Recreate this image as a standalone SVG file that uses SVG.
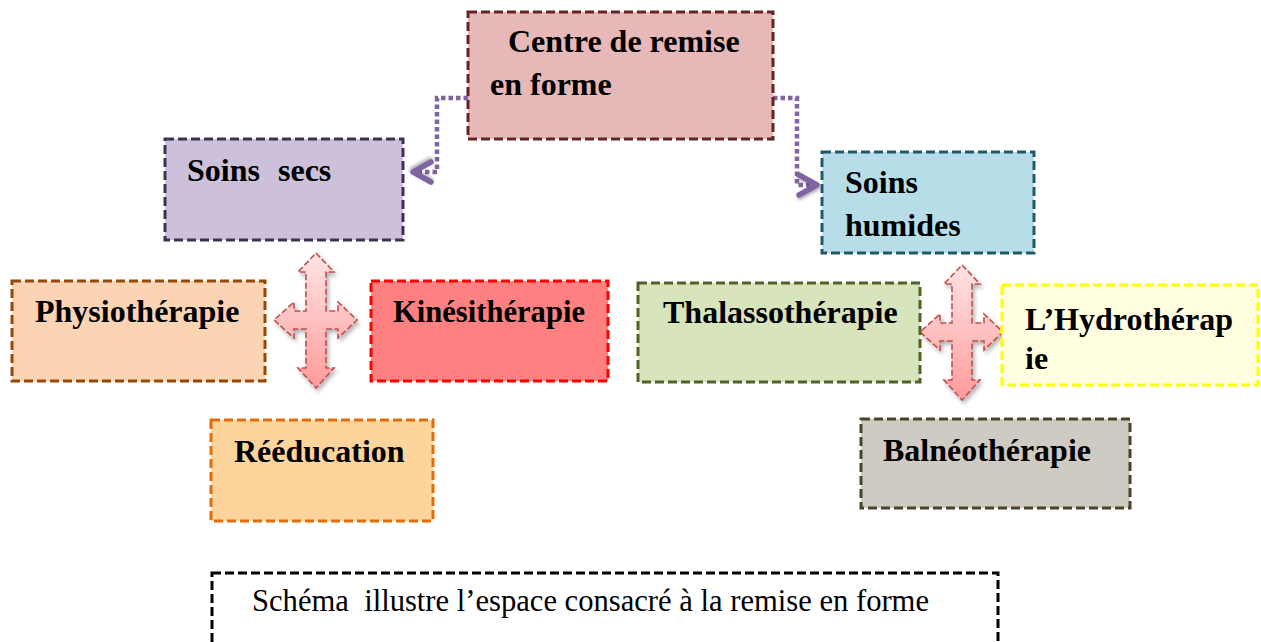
<svg xmlns="http://www.w3.org/2000/svg" width="1261" height="642" viewBox="0 0 1261 642">
<style>
.box{stroke-width:3;stroke-dasharray:9 4;}
.t{font-family:"Liberation Serif","Times New Roman",serif;font-weight:bold;font-size:32px;fill:#000;}
.cap{font-family:"Liberation Serif","Times New Roman",serif;font-size:30.6px;fill:#000;}
.conn{fill:none;stroke:#8064a2;stroke-width:4.5;stroke-dasharray:4.5 3;}
.cross{fill:url(#pink);stroke:#c0504d;stroke-width:1.6;stroke-dasharray:6 2.5;filter:url(#sh);}
</style>
<defs>
<linearGradient id="pink" x1="0" y1="0" x2="0" y2="1">
<stop offset="0" stop-color="#ffe3e3"/>
<stop offset="0.5" stop-color="#ffc0c0"/>
<stop offset="1" stop-color="#ff9a9a"/>
</linearGradient>
<filter id="sh" x="-30%" y="-30%" width="160%" height="160%">
<feDropShadow dx="2" dy="3" stdDeviation="2" flood-color="#000" flood-opacity="0.3"/>
</filter>
<filter id="sh2" x="-50%" y="-50%" width="200%" height="200%">
<feDropShadow dx="1" dy="2" stdDeviation="1.5" flood-color="#000" flood-opacity="0.3"/>
</filter>
<marker id="chev" markerUnits="userSpaceOnUse" markerWidth="30" markerHeight="30" refX="2" refY="12" orient="auto" overflow="visible">
<path d="M-16,2 L2,12 L-16,22" fill="none" stroke="#8064a2" stroke-width="5.5" stroke-linejoin="round" stroke-linecap="round" filter="url(#sh2)"/>
</marker>
<path id="x4" d="M0,-67 L18,-48 L10,-48 L10,-9 L22,-9 L22,-18 L41,0 L22,18 L22,9 L10,9 L10,48 L18,48 L0,68 L-18,48 L-10,48 L-10,9 L-22,9 L-22,18 L-42,0 L-22,-18 L-22,-9 L-10,-9 L-10,-48 L-18,-48 Z"/>
</defs>
<rect width="1261" height="642" fill="#fff"/>

<g id="connectors">
<path class="conn" d="M468,98 H437 V172 H413" marker-end="url(#chev)"/>
<path class="conn" d="M773,98 H797 V185 H817" marker-end="url(#chev)"/>
<use href="#x4" class="cross" x="316" y="320"/>
<use href="#x4" class="cross" x="962" y="332"/>
</g>

<g id="centre">
<rect class="box" x="468" y="12" width="305" height="127" fill="#e6b8b7" stroke="#632523"/>
<text class="t" x="508" y="52">Centre de remise</text>
<text class="t" x="490" y="95">en forme</text>
</g>

<g id="soins-secs">
<rect class="box" x="165" y="139" width="238" height="101" fill="#ccc0da" stroke="#3f3151"/>
<text class="t" x="187" y="181">Soins<tspan x="278">secs</tspan></text>
</g>

<g id="soins-humides">
<rect class="box" x="822" y="152" width="212" height="101" fill="#b7dde8" stroke="#215968"/>
<text class="t" x="845" y="193">Soins</text>
<text class="t" x="845" y="236">humides</text>
</g>

<g id="physiotherapie">
<rect class="box" x="12" y="281" width="253" height="100" fill="#fbd4b4" stroke="#974806"/>
<text class="t" x="35" y="322">Physiothérapie</text>
</g>

<g id="kinesitherapie">
<rect class="box" x="371" y="281" width="237" height="100" fill="#ff8080" stroke="#ff0000"/>
<text class="t" x="393" y="322" textLength="192" lengthAdjust="spacingAndGlyphs">Kinésithérapie</text>
</g>

<g id="thalassotherapie">
<rect class="box" x="638" y="283" width="282" height="99" fill="#d7e4bc" stroke="#4f6228"/>
<text class="t" x="663" y="323">Thalassothérapie</text>
</g>

<g id="hydrotherapie">
<rect class="box" x="1002" y="285" width="256" height="100" fill="#ffffe0" stroke="#ffff00"/>
<text class="t" x="1025" y="330">L’Hydrothérap</text>
<text class="t" x="1025" y="369">ie</text>
</g>

<g id="reeducation">
<rect class="box" x="211" y="420" width="222" height="101" fill="#fdd49b" stroke="#e36c09"/>
<text class="t" x="234" y="462">Rééducation</text>
</g>

<g id="balneotherapie">
<rect class="box" x="861" y="419" width="269" height="89" fill="#cfcbc3" stroke="#494429"/>
<text class="t" x="883" y="461">Balnéothérapie</text>
</g>

<g id="caption">
<rect x="212" y="573" width="786" height="100" fill="none" stroke="#000" stroke-width="3" stroke-dasharray="9 4"/>
<text class="cap" x="252" y="611" xml:space="preserve">Schéma  illustre l’espace consacré à la remise en forme</text>
</g>
</svg>
